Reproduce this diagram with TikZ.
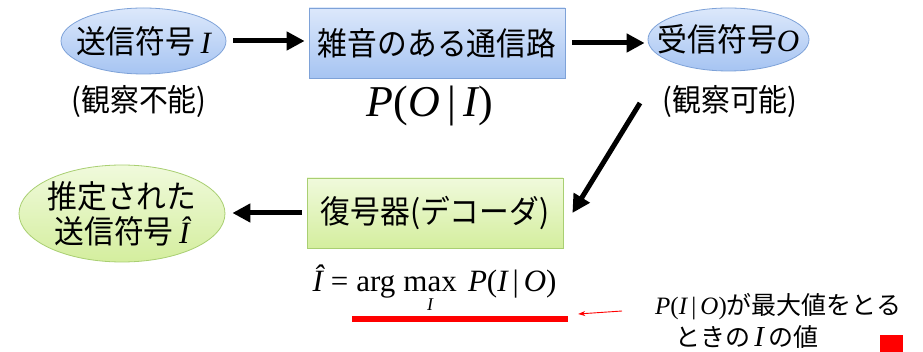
\documentclass[tikz,border=0pt]{standalone}
\usepackage{fontspec}
\setmainfont{Noto Sans CJK JP}
\newfontfamily\jpc[FakeStretch=0.93]{Noto Sans CJK JP}
\newfontfamily\tms{Liberation Serif}
\usetikzlibrary{arrows.meta,shapes.geometric,calc}
\definecolor{bluetop}{HTML}{DCE8FB}
\definecolor{bluebot}{HTML}{A6C4F2}
\definecolor{blueline}{HTML}{7EA2D8}
\definecolor{greentop}{HTML}{F0FADC}
\definecolor{greenbot}{HTML}{D4EE9E}
\definecolor{greenline}{HTML}{A9CF72}
\tikzset{
  shapebase/.style={line width=0.8pt, inner ysep=0pt, text=black},
  blueell/.style={shapebase, ellipse, draw=blueline, top color=bluetop, bottom color=bluebot, inner xsep=-18pt},
  bluebox/.style={shapebase, rectangle, draw=blueline, top color=bluetop, bottom color=bluebot, inner xsep=0pt},
  greenell/.style={shapebase, ellipse, draw=greenline, top color=greentop, bottom color=greenbot, inner xsep=-4pt},
  greenbox/.style={shapebase, rectangle, draw=greenline, top color=greentop, bottom color=greenbot, inner xsep=0pt},
  jp/.style={font=\jpc\fontsize{32}{35}\selectfont},
  note/.style={font=\jpc\fontsize{31}{32}\selectfont, inner sep=0pt},
  ann/.style={font=\fontsize{25}{27}\selectfont, inner sep=0pt, anchor=base west},
  bigarrow/.style={line width=5pt, -{Triangle[length=18pt,width=18pt]}},
  redfill/.style={fill=red, inner sep=0pt},
}
\begin{document}
\begin{tikzpicture}[x=1pt,y=-1pt]
\useasboundingbox (0,0) rectangle (923,352);
% top row
\node[blueell, jp, minimum width=165pt, minimum height=66pt] (e1) at (143.5,41) {送信符号\,{\tms\fontsize{31}{31}\selectfont\itshape I}};
\node[bluebox, jp, minimum width=256pt, minimum height=70pt] (b1) at (437,43) {雑音のある通信路};
\node[blueell, jp, minimum width=161pt, minimum height=63pt] (e2) at (728.5,39.5) {受信符号{\tms\fontsize{31}{31}\selectfont\itshape O}};
\node[note] (n1) at (139,102) {(観察不能)};
\node[note] (n2) at (730,102) {(観察可能)};
\node[font=\tms\fontsize{44}{44}\selectfont, inner sep=0pt] (p1) at (430,106) {\itshape P\upshape(\itshape O\upshape\,|\,\itshape I\upshape)};
% bottom row
\node[greenbox, jp, minimum width=256pt, minimum height=70pt] (b2) at (435,213) {復号器(デコーダ)};
\node[greenell, jp, align=center, minimum width=206pt, minimum height=97pt] (e3) at (122,213.5) {推定された\\送信符号\,{\tms\fontsize{31}{31}\selectfont\itshape Î}};
\node[font=\tms\fontsize{31}{33}\selectfont, inner sep=0pt, anchor=base] (f2) at (434.5,292) {$\hbox{\itshape Î}\kern8pt\hbox{=}\kern8pt\hbox{arg}\kern4pt\mathop{\hbox{max}}\limits_{\vbox{\kern5pt\hbox{\fontsize{18}{18}\selectfont\itshape I}}}\kern7pt\hbox{\itshape P}\hbox{(}\hbox{\itshape I}\kern5pt\hbox{|}\kern5pt\hbox{\itshape O}\hbox{)}$};
% arrows
\draw[bigarrow, shorten <=7pt, shorten >=4pt] (e1.east) -- (e1.east -| b1.west);
\draw[bigarrow, shorten <=7pt, shorten >=3pt] (b1.east) -- (b1.east -| e2.west);
\coordinate (dtail) at (640,103);
\coordinate (dtip) at ($(b2.east)+(9,0)$);
\draw[bigarrow] (dtail) -- (dtip);
\draw[bigarrow, shorten <=5pt, shorten >=7pt] (b2.west) -- (b2.west -| e3.east);
% red annotation
\node[redfill, minimum width=216pt, minimum height=6pt] (bar) at (460,319) {};
\coordinate (rtail) at (622,311);
\coordinate (rtip) at ($(bar.east)+(10,-5)$);
\draw[red, line width=0.9pt, -{Stealth[length=7pt,width=5pt]}] (rtail) -- (rtip);
\node[ann] (a1) at (655,315) {{\tms\itshape P\upshape(\itshape I\upshape\,|\,\itshape O\upshape)}が最大値をとる};
\node[ann] (a2) at (675,346) {ときの\,\smash{\tms\fontsize{29}{29}\selectfont\itshape I}\,の値};
\node[redfill, minimum width=23pt, minimum height=17pt] (sq) at (891.5,343.5) {};
\end{tikzpicture}
\end{document}
